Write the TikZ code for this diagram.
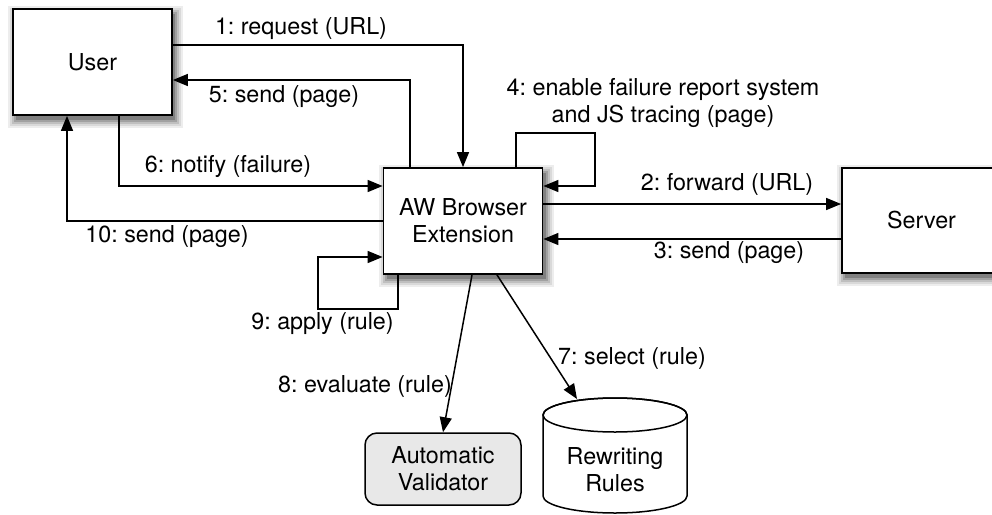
\documentclass[tikz,border=0pt]{standalone}
\usepackage{fontspec}
\setmainfont{TeX Gyre Heros}
\usetikzlibrary{arrows.meta}
\frenchspacing
\definecolor{sha}{gray}{0.93}
\definecolor{shb}{gray}{0.85}
\definecolor{shc}{gray}{0.75}
\definecolor{shd}{gray}{0.63}
\definecolor{she}{gray}{0.5}
\newcommand\myshadow[4]{%
  \fill[sha] (#1+3-8,#2+5-8) rectangle (#3+3+8,#4+5+8);
  \fill[shb] (#1+3-6,#2+5-6) rectangle (#3+3+6,#4+5+6);
  \fill[shc] (#1+3-4,#2+5-4) rectangle (#3+3+4,#4+5+4);
  \fill[shd] (#1+3-2,#2+5-2) rectangle (#3+3+2,#4+5+2);
  \fill[she] (#1+3,#2+5) rectangle (#3+3,#4+5);
}
\begin{document}
\begin{tikzpicture}[x=1pt,y=-1pt,
  every node/.style={font=\fontsize{23.3}{27}\selectfont},
  box/.style={draw,line width=1.8pt,fill=white,minimum width=159pt,minimum height=106pt,inner sep=0pt},
  arr/.style={line width=1.5pt,-{Triangle[length=15pt,width=12pt]}},
  lbl/.style={inner sep=0pt,align=center}]
\useasboundingbox (0,0) rectangle (992,514);
% shadows behind the boxes
\myshadow{13}{9}{172}{115}
\myshadow{383.5}{168}{542.5}{274}
\myshadow{842}{168}{1001}{273}
% nodes
\node[box] (user) at (92.5,62) {User};
\node[box,align=center] (aw) at (463,221) {AW Browser\\Extension};
\node[box,minimum height=105pt] (server) at (921.5,220.5) {Server};
\node[draw,line width=1.5pt,fill=black!9,rounded corners=12pt,minimum width=156pt,minimum height=72pt,inner sep=0pt,align=center] (val) at (443,469) {Automatic\\Validator};
% cylinder
\draw[line width=1.5pt,fill=white] (543,415) -- (543,496) arc[start angle=180,end angle=360,x radius=72pt,y radius=17pt] -- (687,415) arc[start angle=0,end angle=180,x radius=72pt,y radius=17pt] -- cycle;
\draw[line width=1.5pt] (615,415) ellipse [x radius=72pt,y radius=17pt];
\node[lbl] (rr) at (615,470) {Rewriting\\Rules};
\coordinate (cyltop) at (577,399);
% connectors
\draw[arr] (user.east |- 0,45) -| (aw.north);
\draw[arr] (aw.north -| 410,0) |- (user.east |- 0,80);
\draw[arr] (user.south -| 119,0) |- (aw.west |- 0,186);
\draw[arr] (aw.west) -| (user.south -| 67,0);
\draw[arr] (aw.north -| 516,0) |- (595,133) |- (aw.east |- 0,186);
\draw[arr] (aw.east |- 0,204) -- (server.west |- 0,204);
\draw[arr] (server.west |- 0,239) -- (aw.east |- 0,239);
\draw[arr] (aw.south -| 398,0) |- (318,309) |- (aw.west |- 0,257);
\draw[arr] (aw.south -| 472,0) -- (val.north);
\draw[arr] (aw.south -| 497,0) -- (cyltop);
% labels
\node[lbl] (l1) at (301,29) {1: request (URL)};
\node[lbl] (l5) at (284,97) {5: send (page)};
\node[lbl] (l6) at (228,167) {6: notify (failure)};
\node[lbl] (l10) at (167,237) {10: send (page)};
\node[lbl] (l4) at (663,103.5) {4: enable failure report system\\and JS tracing (page)};
\node[lbl] (l2) at (727,184) {2: forward (URL)};
\node[lbl] (l3) at (729,253) {3: send (page)};
\node[lbl] (l9) at (322.5,324) {9: apply (rule)};
\node[lbl] (l8) at (365,386) {8: evaluate (rule)};
\node[lbl] (l7) at (632,358) {7: select (rule)};
\end{tikzpicture}
\end{document}
